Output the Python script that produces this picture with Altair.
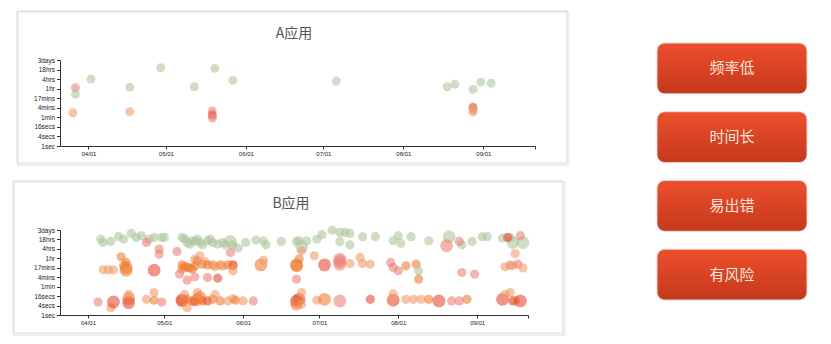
import altair as alt
import pandas as pd

# ---------------- data ----------------
Y_TICK_SECONDS = [1, 4, 16, 64, 256, 1024, 4096, 16384, 65536, 262144]
Y_TICK_LABELS = ["1sec", "4secs", "16secs", "1min", "4mins", "17mins", "1hr", "4hrs", "18hrs", "3days"]
X_TICK_DATES = ["04-01", "05-01", "06-01", "07-01", "08-01", "09-01", "09-21"]
X_DOMAIN = ["03-21", "09-21"]
YEAR = 2015

KIND_CODES = ["g", "s", "p", "o", "r"]
KIND_COLORS = ["#adc59b", "#f29a68", "#ec7d76", "#ef7b31", "#e4472f"]

PANEL_TITLES = ["A应用", "B应用"]
BUTTON_LABELS = ["频率低", "时间长", "易出错", "有风险"]

# panel A
A_DATES = ["03-26", "03-27", "03-27", "04-02", "04-17", "04-17", "04-29", "05-12", "05-20", "05-19",
           "05-19", "05-19", "05-27", "07-06", "08-18", "08-21", "08-28", "08-31", "09-04", "08-28",
           "08-28", "08-28"]
A_SECONDS = [124, 4700, 1800, 16500, 5000, 145, 85000, 5400, 78000, 160,
             90, 58, 13700, 12300, 5400, 7700, 3700, 10600, 8900, 275,
             186, 140]
A_KINDS = ["s", "p", "g", "g", "g", "s", "g", "g", "g", "p",
           "r", "p", "g", "g", "g", "g", "g", "g", "g", "r",
           "s", "s"]

# panel B - hours band
B_TOP_DATES = ["04-06", "04-07", "04-10", "04-13", "04-15", "04-18", "04-20", "04-22", "04-25", "04-27",
               "04-30", "05-01", "05-08", "05-09", "05-10", "05-11", "05-12", "05-13", "05-14", "05-15",
               "05-16", "05-18", "05-19", "05-20", "05-22", "05-24", "05-25", "05-27", "05-28", "05-30",
               "06-02", "06-06", "06-09", "06-10", "06-16", "06-22", "06-23", "06-24", "06-26", "06-30",
               "07-02", "07-06", "07-09", "07-11", "07-13", "07-09", "07-13", "07-18", "07-23", "07-30",
               "08-01", "08-02", "08-06", "08-13", "08-21", "08-26", "08-30", "09-03", "09-05", "09-11",
               "09-14", "09-15", "09-19",
               "04-24", "09-13", "09-18", "08-20", "08-25", "04-29", "04-29", "05-06", "05-27", "06-24",
               "06-29"]
B_TOP_SECONDS = [69000, 42000, 49000, 102000, 69000, 159000, 87700, 114000, 69000, 87700,
                 87700, 87700, 87700, 69000, 42000, 33000, 54000, 49000, 69000, 42000,
                 30000, 54000, 69000, 42000, 33000, 42000, 30000, 49000, 30000, 18600,
                 42000, 60000, 54000, 30000, 49000, 49000, 54000, 22500, 54000, 69000,
                 131000, 250000, 185000, 185000, 159000, 47000, 30000, 98000, 98000, 54000,
                 114000, 36600, 98000, 54000, 98000, 30000, 49000, 98000, 98000, 80700,
                 87700, 42000, 42000,
                 42000, 87700, 114000, 25900, 49000, 15900, 7650, 11300, 9670, 12400,
                 5950]
B_TOP_KINDS = ["g", "g", "g", "g", "g", "g", "g", "g", "g", "g",
               "g", "g", "g", "g", "g", "g", "g", "g", "g", "g",
               "g", "g", "g", "g", "g", "g", "g", "g", "g", "g",
               "g", "g", "g", "g", "g", "g", "g", "g", "g", "g",
               "g", "g", "g", "g", "g", "g", "g", "g", "g", "g",
               "g", "g", "g", "g", "g", "g", "g", "g", "g", "g",
               "g", "g", "g",
               "p", "r", "p", "p", "p", "p", "p", "p", "p", "s",
               "s"]
B_TOP_WEIGHTS = [1, 1, 1, 1, 1, 1, 1, 1, 1, 1,
                 1, 1, 1, 1, 1, 1, 1, 1, 1, 1,
                 1, 1, 1, 1, 1, 1, 1, 2, 1, 1,
                 1, 1, 1, 1, 1, 1, 1, 2, 1, 1,
                 1, 1, 1, 1, 1, 1, 1, 1, 1, 1,
                 1, 1, 1, 1, 2, 1, 1, 1, 1, 1,
                 1, 2, 2,
                 1, 1, 1, 2, 1, 1, 1, 1, 1, 1,
                 1]

# panel B - minutes band
B_MID_DATES = ["04-07", "04-09", "04-11", "04-14", "04-15", "04-16", "04-16", "04-16", "04-27", "05-08",
               "05-08", "05-09", "05-10", "05-11", "05-12", "05-13", "05-13", "05-14", "05-15", "05-16",
               "05-17", "05-18", "05-20", "05-21", "05-23", "05-24", "05-26", "05-28", "05-28", "05-28",
               "05-07", "05-10", "05-13", "05-18", "05-22", "06-08", "06-09", "06-22", "06-22", "06-23",
               "06-22", "07-03", "07-09", "07-09", "07-09", "07-13", "07-17", "07-18", "07-21", "07-29",
               "07-30", "08-01", "08-04", "08-08", "08-09", "08-09", "08-26", "08-31", "09-12", "09-14",
               "09-15", "09-16", "09-17", "09-19"]
B_MID_SECONDS = [755, 755, 755, 5110, 1400, 2230, 1070, 720, 720, 1570,
                 860, 1250, 1070, 1000, 860, 3680, 1300, 2850, 5950, 1750,
                 2500, 1570, 1570, 1200, 1570, 1300, 1570, 1570, 1370, 657,
                 405, 166, 271, 242, 223, 1570, 3070, 1570, 1370, 3680,
                 191, 1570, 3680, 1750, 2600, 1910, 4640, 1910, 1750, 2230,
                 1070, 657, 1370, 1750, 657, 191, 512, 405, 1180, 1500,
                 1370, 8300, 1750, 1000]
B_MID_KINDS = ["s", "s", "s", "o", "s", "o", "o", "o", "r", "o",
               "o", "o", "o", "o", "o", "s", "o", "o", "s", "o",
               "s", "o", "o", "s", "o", "s", "o", "r", "o", "s",
               "p", "p", "p", "p", "r", "o", "s", "o", "o", "o",
               "p", "r", "p", "p", "p", "s", "s", "s", "s", "p",
               "p", "p", "o", "o", "g", "o", "p", "p", "s", "p",
               "s", "s", "p", "s"]
B_MID_WEIGHTS = [1, 1, 1, 1, 1, 1, 2, 2, 2, 1,
                 1, 1, 1, 1, 1, 1, 1, 1, 1, 1,
                 1, 1, 1, 1, 1, 1, 1, 1, 1, 1,
                 1, 1, 1, 1, 1, 2, 1, 2, 2, 1,
                 1, 2, 2, 2, 2, 1, 1, 1, 1, 1,
                 1, 1, 1, 1, 1, 1, 1, 1, 1, 1,
                 1, 1, 1, 1]

# panel B - seconds band
B_LOW_DATES = ["04-05", "04-10", "04-11", "04-17", "04-17", "04-17", "04-24", "04-27", "04-27", "04-30",
               "05-08", "05-08", "05-09", "05-10", "05-10", "05-12", "05-13", "05-14", "05-14", "05-15",
               "05-16", "05-18", "05-20", "05-21", "05-23", "05-26", "05-28", "05-29", "06-01", "06-05",
               "06-22", "06-23", "06-22", "06-24", "06-24", "06-30", "07-03", "07-09", "07-21", "07-30",
               "07-30", "08-04", "08-07", "08-10", "08-13", "08-17", "08-22", "08-25", "08-28", "09-11",
               "09-12", "09-14", "09-15", "09-16", "09-18"]
B_LOW_SECONDS = [6.7, 2.95, 6.7, 11, 6.1, 21, 10, 8.7, 27, 6.7,
                 7.9, 9, 20, 10, 2.95, 7.9, 7, 10, 27, 13,
                 7.9, 7.9, 10, 20, 7.9, 7.9, 11, 8.7, 7.9, 7.9,
                 7.9, 10, 5, 27, 4.8, 8.7, 10, 7.9, 10, 8.7,
                 22, 10, 10, 10, 10, 7.9, 7.9, 7.9, 10, 10,
                 20, 27, 7.9, 8, 7.9]
B_LOW_KINDS = ["p", "s", "r", "o", "r", "s", "s", "o", "s", "p",
               "o", "r", "s", "o", "s", "o", "r", "o", "s", "o",
               "o", "r", "o", "s", "o", "s", "s", "o", "s", "p",
               "r", "r", "o", "s", "s", "s", "o", "p", "r", "r",
               "s", "s", "s", "s", "o", "r", "p", "p", "o", "r",
               "s", "s", "r", "o", "r"]
B_LOW_WEIGHTS = [1, 1, 2, 2, 2, 1, 1, 1, 1, 1,
                 2, 2, 1, 1, 1, 1, 1, 2, 1, 2,
                 1, 1, 1, 1, 1, 1, 1, 1, 1, 1,
                 2, 2, 2, 1, 1, 1, 2, 2, 1, 2,
                 1, 1, 1, 1, 1, 2, 1, 1, 1, 2,
                 1, 1, 1, 1, 2]


# ---------------- helpers ----------------
def iso(mmdd):
    return f"{YEAR}-{mmdd}"


def dt(mmdd):
    m, d = mmdd.split("-")
    return alt.DateTime(year=YEAR, month=int(m), date=int(d), utc=True)


df_a = pd.DataFrame({
    "date": [iso(d) for d in A_DATES],
    "seconds": A_SECONDS,
    "kind": A_KINDS,
})
df_b = pd.DataFrame({
    "date": [iso(d) for d in B_TOP_DATES + B_MID_DATES + B_LOW_DATES],
    "seconds": B_TOP_SECONDS + B_MID_SECONDS + B_LOW_SECONDS,
    "kind": B_TOP_KINDS + B_MID_KINDS + B_LOW_KINDS,
    "weight": B_TOP_WEIGHTS + B_MID_WEIGHTS + B_LOW_WEIGHTS,
})

y_label_expr = "[" + ",".join(f"'{s}'" for s in Y_TICK_LABELS) + "][round(log(datum.value) / log(4))]"
x_label_expr = "utcFormat(datum.value, '%d') == '01' ? utcFormat(datum.value, '%m/%d') : ''"

axis_style = dict(grid=False, domainColor="#333333", tickColor="#333333", labelColor="#222222",
                  labelFont="Liberation Sans", labelFlush=False, labelOverlap=False, title=None,
                  domainWidth=1, tickWidth=1)

color_enc = alt.Color("kind:N", scale=alt.Scale(domain=KIND_CODES, range=KIND_COLORS), legend=None)


def panel(title, df, width, height, left_pad, right_pad, title_x, sized):
    x_enc = alt.X("date:T",
                  scale=alt.Scale(type="utc", domain=[dt(X_DOMAIN[0]), dt(X_DOMAIN[1])]),
                  axis=alt.Axis(values=[dt(v) for v in X_TICK_DATES], labelExpr=x_label_expr,
                                tickSize=3, labelFontSize=6, labelPadding=1.5, **axis_style))
    y_enc = alt.Y("seconds:Q",
                  scale=alt.Scale(type="log", base=4, domain=[Y_TICK_SECONDS[0], Y_TICK_SECONDS[-1]], nice=False),
                  axis=alt.Axis(values=Y_TICK_SECONDS, labelExpr=y_label_expr,
                                tickSize=3.5, labelFontSize=6.5, labelPadding=2, **axis_style))
    if sized:
        pts = alt.Chart(df).mark_circle(opacity=0.58).encode(
            x=x_enc, y=y_enc, color=color_enc,
            size=alt.Size("weight:Q", scale=alt.Scale(domain=[1, 2], range=[85, 165]), legend=None))
    else:
        pts = alt.Chart(df).mark_circle(opacity=0.58, size=80).encode(x=x_enc, y=y_enc, color=color_enc)

    deco = pd.DataFrame({"t": [title]})
    shadow = alt.Chart(deco).mark_rect(fillOpacity=0, stroke="#efefef", strokeWidth=2).encode(
        x=alt.value(-left_pad + 1), x2=alt.value(width + right_pad + 1.5),
        y=alt.value(-49 + 1), y2=alt.value(103 + 2))
    box = alt.Chart(deco).mark_rect(fillOpacity=0, stroke="#dadada", strokeWidth=1).encode(
        x=alt.value(-left_pad), x2=alt.value(width + right_pad),
        y=alt.value(-49), y2=alt.value(103))
    ttl = alt.Chart(deco).mark_text(font="Noto Sans CJK SC", fontSize=14, color="#555555",
                                    align="center", baseline="middle").encode(
        x=alt.value(title_x), y=alt.value(-26), text="t:N")
    return alt.layer(shadow, box, pts, ttl).properties(width=width, height=height)


chart_a = panel(PANEL_TITLES[0], df_a, 475, 86, 43, 32, 234, False)
chart_b = panel(PANEL_TITLES[1], df_b, 468, 85, 47, 35, 231, True)

left = alt.vconcat(chart_a, chart_b, spacing=14).resolve_scale(x="independent", y="independent")

# ---------------- buttons ----------------
df_btn = pd.DataFrame({"label": BUTTON_LABELS})
btn_y = alt.Y("label:N", sort=BUTTON_LABELS, axis=None,
              scale=alt.Scale(range=[-17, 240], paddingInner=0.26, paddingOuter=0))
gradient = alt.LinearGradient(
    gradient="linear",
    stops=[alt.GradientStop(color="#ec4f2d", offset=0), alt.GradientStop(color="#c5381c", offset=1)],
    x1=0, x2=0, y1=0, y2=1)
btn_bars = alt.Chart(df_btn).mark_bar(cornerRadius=8, color=gradient, stroke="#ead8d2", strokeWidth=1).encode(
    y=btn_y, x=alt.value(0), x2=alt.value(150))
btn_text = alt.Chart(df_btn).mark_text(font="Noto Sans CJK SC", fontSize=15, color="#fbe4da",
                                       align="center", baseline="middle").encode(
    y=btn_y, x=alt.value(75), text="label:N")
buttons = alt.layer(btn_bars, btn_text).properties(width=150, height=240)

chart = alt.hconcat(left, buttons, spacing=86).properties(
    padding={"left": 12, "top": 10, "right": 0, "bottom": 0},
    background="white",
).configure_view(stroke=None)

chart.save("out.html", embed_options={"renderer": "svg", "actions": False})
